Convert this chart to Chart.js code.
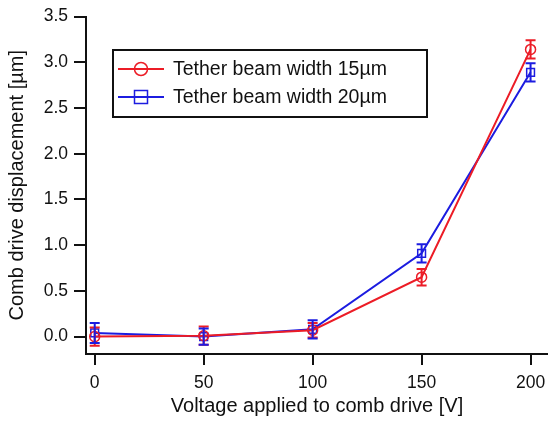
<!DOCTYPE html>
<html>
<head>
<meta charset="utf-8">
<script src="https://cdn.jsdelivr.net/npm/chart.js@4.4.0/dist/chart.umd.min.js"></script>
<style>
  html, body { margin: 0; padding: 0; background: #fff; }
  #wrap { width: 548px; height: 421px; }
</style>
</head>
<body>
<div id="wrap"><canvas id="c" width="548" height="421"></canvas></div>
<script>
// ---- Data ----
const voltages = [0, 50, 100, 150, 200];
const width15Values = [0.00, 0.01, 0.07, 0.65, 3.14];
const width15Errors = [0.10, 0.10, 0.08, 0.09, 0.10];
const width20Values = [0.04, 0.00, 0.08, 0.91, 2.89];
const width20Errors = [0.11, 0.09, 0.10, 0.10, 0.10];
const seriesLabels = ['Tether beam width 15\u00b5m', 'Tether beam width 20\u00b5m'];
const xTickValues = [0, 50, 100, 150, 200];
const yTickValues = [0.0, 0.5, 1.0, 1.5, 2.0, 2.5, 3.0, 3.5];

const FONT = '"Liberation Sans", Arial, Helvetica, sans-serif';
const RED = '#ec1c26';
const BLUE = '#1c1ce0';

const toPoints = (vals) => voltages.map((v, i) => ({ x: v, y: vals[i] }));

const errorBarPlugin = {
  id: 'errorBars',
  afterDatasetsDraw(chart) {
    const ctx = chart.ctx;
    const xs = chart.scales.x, ys = chart.scales.y;
    chart.data.datasets.forEach((ds) => {
      const errs = ds.errors;
      ctx.save();
      ctx.strokeStyle = ds.borderColor;
      ctx.lineWidth = 2;
      ds.data.forEach((p, i) => {
        const px = xs.getPixelForValue(p.x);
        const top = ys.getPixelForValue(p.y + errs[i]);
        const bot = ys.getPixelForValue(p.y - errs[i]);
        ctx.beginPath();
        ctx.moveTo(px, top); ctx.lineTo(px, bot);
        ctx.moveTo(px - 5, top); ctx.lineTo(px + 5, top);
        ctx.moveTo(px - 5, bot); ctx.lineTo(px + 5, bot);
        ctx.stroke();
      });
      ctx.restore();
    });
  }
};

const boxLegendPlugin = {
  id: 'boxLegend',
  afterDraw(chart) {
    const ctx = chart.ctx;
    const left = 113, top = 50, right = 427, bottom = 117;
    ctx.save();
    ctx.fillStyle = '#fff';
    ctx.fillRect(left, top, right - left, bottom - top);
    ctx.strokeStyle = '#111';
    ctx.lineWidth = 2;
    ctx.strokeRect(left, top, right - left, bottom - top);
    const rows = [69, 97];
    chart.data.datasets.forEach((ds, i) => {
      const y = rows[i];
      ctx.strokeStyle = ds.borderColor;
      ctx.lineWidth = 2;
      ctx.beginPath(); ctx.moveTo(118, y); ctx.lineTo(164, y); ctx.stroke();
      ctx.lineWidth = 1.5;
      ctx.beginPath();
      if (ds.pointStyle === 'circle') {
        ctx.arc(141, y, 6.5, 0, Math.PI * 2);
      } else {
        ctx.rect(134.5, y - 6.5, 13, 13);
      }
      ctx.stroke();
      ctx.fillStyle = '#111';
      ctx.font = '19.5px ' + FONT;
      ctx.textBaseline = 'middle';
      ctx.textAlign = 'left';
      ctx.fillText(ds.label, 173, y + 1);
    });
    ctx.restore();
  }
};

new Chart(document.getElementById('c'), {
  type: 'line',
  data: {
    datasets: [
      {
        label: seriesLabels[0],
        data: toPoints(width15Values),
        errors: width15Errors,
        borderColor: RED,
        backgroundColor: 'rgba(0,0,0,0)',
        borderWidth: 2,
        pointStyle: 'circle',
        pointRadius: 5,
        pointBorderWidth: 1.5,
        pointBackgroundColor: 'rgba(0,0,0,0)',
        pointBorderColor: RED,
        tension: 0
      },
      {
        label: seriesLabels[1],
        data: toPoints(width20Values),
        errors: width20Errors,
        borderColor: BLUE,
        backgroundColor: 'rgba(0,0,0,0)',
        borderWidth: 2,
        pointStyle: 'rect',
        pointRadius: 5.5,
        pointBorderWidth: 1.5,
        pointBackgroundColor: 'rgba(0,0,0,0)',
        pointBorderColor: BLUE,
        tension: 0
      }
    ]
  },
  options: {
    responsive: false,
    animation: false,
    layout: { autoPadding: false, padding: { left: 0, right: 0, top: 15, bottom: 0 } },
    plugins: { legend: { display: false }, tooltip: { enabled: false } },
    scales: {
      x: {
        type: 'linear',
        min: -4,
        max: 208,
        afterBuildTicks: (s) => { s.ticks = xTickValues.map(v => ({ value: v })); },
        afterFit: (s) => { s.height = 421 - 354; },
        grid: { drawOnChartArea: false, drawTicks: true, tickLength: 11, tickColor: '#111', lineWidth: 2 },
        border: { display: true, color: '#111', width: 2 },
        ticks: { color: '#111', font: { family: FONT, size: 17.5, lineHeight: 2.0 }, padding: 1, maxRotation: 0 },
        title: { display: true, text: 'Voltage applied to comb drive [V]', color: '#111', font: { family: FONT, size: 20 }, padding: { top: 3, bottom: 3 } }
      },
      y: {
        type: 'linear',
        min: -0.19,
        max: 3.5,
        afterBuildTicks: (s) => { s.ticks = yTickValues.map(v => ({ value: v })); },
        afterFit: (s) => { s.width = 86; },
        grid: { drawOnChartArea: false, drawTicks: true, tickLength: 12, tickColor: '#111', lineWidth: 2 },
        border: { display: true, color: '#111', width: 2 },
        ticks: { color: '#111', font: { family: FONT, size: 17.5 }, padding: 6, callback: (v) => Number(v).toFixed(1) },
        title: { display: true, text: 'Comb drive displacement [\u00b5m]', color: '#111', font: { family: FONT, size: 20 }, padding: { top: 5, bottom: 0 } }
      }
    }
  },
  plugins: [errorBarPlugin, boxLegendPlugin]
});
</script>
</body>
</html>
